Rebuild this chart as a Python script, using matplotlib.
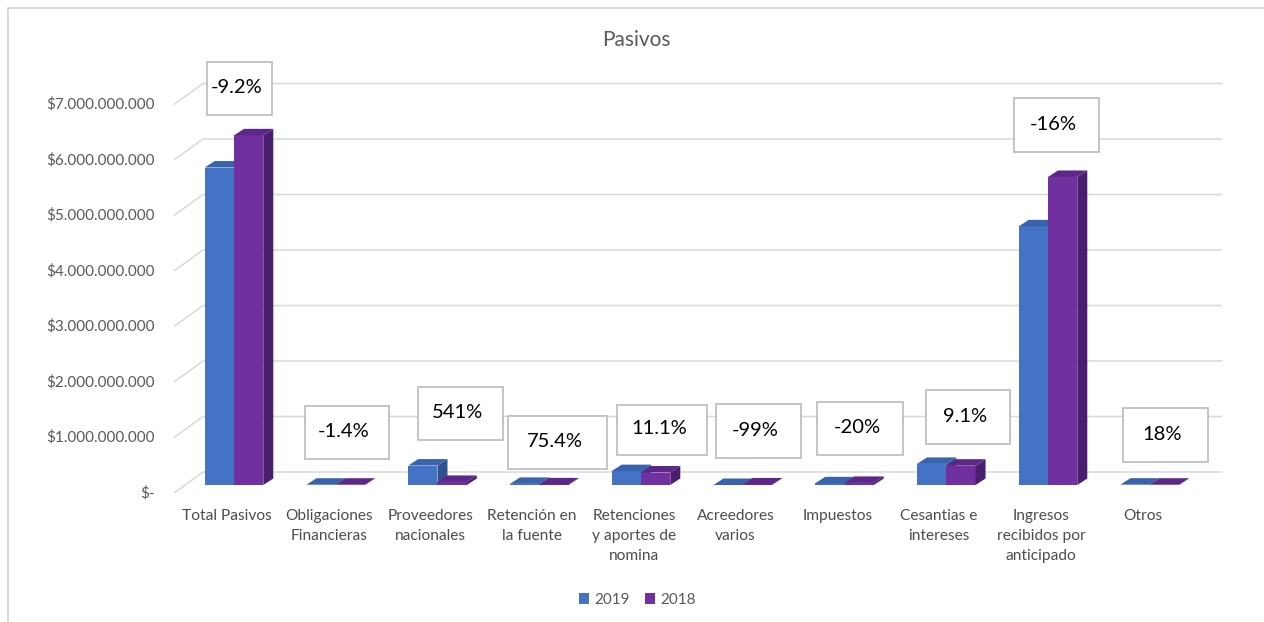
import matplotlib
matplotlib.use("Agg")
import matplotlib.pyplot as plt
from matplotlib.patches import Polygon, Rectangle, Patch
from matplotlib.lines import Line2D

plt.rcParams['font.family'] = ['Lato', 'DejaVu Sans']

# ---------------- data ----------------
categories = ["Total Pasivos", "Obligaciones\nFinancieras", "Proveedores\nnacionales",
              "Retención en\nla fuente", "Retenciones\ny aportes de\nnomina",
              "Acreedores\nvarios", "Impuestos", "Cesantias e\nintereses",
              "Ingresos\nrecibidos por\nanticipado", "Otros"]
# values in billions of pesos
values_2019 = [5.72, 0.005, 0.35, 0.02, 0.25, 0.0001, 0.03, 0.38, 4.66, 0.006]
values_2018 = [6.30, 0.005, 0.055, 0.0114, 0.225, 0.01, 0.0375, 0.348, 5.55, 0.005]
variation_labels = ["-9.2%", "-1.4%", "541%", "75.4%", "11.1%", "-99%", "-20%", "9.1%", "-16%", "18%"]
tick_values = [0, 1, 2, 3, 4, 5, 6, 7]
tick_labels = ["$-", "$1.000.000.000", "$2.000.000.000", "$3.000.000.000",
               "$4.000.000.000", "$5.000.000.000", "$6.000.000.000", "$7.000.000.000"]
series_names = ["2019", "2018"]

# ---------------- styling ----------------
W, H = 1264, 622
fig = plt.figure(figsize=(W / 100, H / 100), dpi=100)
ax = fig.add_axes([0, 0, 1, 1])
PX_X0, PX_DX = 234.0, 101.75   # pixel of category 0 centre, pixels per category
PX_Y0, PX_DY = 485.0, 55.5     # pixel of value 0 (front), pixels per billion
ax.set_xlim((0 - PX_X0) / PX_DX, (W - PX_X0) / PX_DX)
ax.set_ylim((PX_Y0 - H) / PX_DY, PX_Y0 / PX_DY)
ax.axis('off')

def dx(px):
    return px / PX_DX

def dy(px):
    return px / PX_DY

TXT = '#595959'
GRID = '#d9d9d9'
front_c = ['#4472C4', '#7030A0']
side_c = ['#2F528F', '#4A1E6E']
top_c = ['#3A63AD', '#5D2689']

# outer border (top and left edges visible)
fig.lines.append(Line2D([8 / W, 8 / W, 1], [0, 1 - 8 / H, 1 - 8 / H],
                        transform=fig.transFigure, color='#d0d0d0', linewidth=1.2))

# back gridlines with perspective diagonal
x_left = (174 - PX_X0) / PX_DX
x_wall = (203 - PX_X0) / PX_DX
x_right = (1222 - PX_X0) / PX_DX
back_off = dy(13)
label_off = dy(8)
for v, lab in zip(tick_values, tick_labels):
    ax.plot([x_left, x_wall, x_right], [v - label_off, v + back_off, v + back_off],
            color=GRID, linewidth=1.1, zorder=1, solid_capstyle='butt')
    ax.text((155 - PX_X0) / PX_DX, v - label_off, lab, ha='right', va='center',
            fontsize=11, color=TXT)

# 3D-looking bars
bw = dx(29.3)
ddx, ddy = dx(10), dy(6.5)
xs = list(range(len(categories)))
for s, vals in enumerate([values_2019, values_2018]):
    offs = -bw / 2 if s == 0 else bw / 2
    pos = [x + offs for x in xs]
    ax.bar(pos, vals, width=bw, color=front_c[s], edgecolor='none', zorder=3 + 2 * s)
    for p, v in zip(pos, vals):
        l, r = p - bw / 2, p + bw / 2
        side = Polygon([(r, 0), (r + ddx, ddy), (r + ddx, v + ddy), (r, v)],
                       closed=True, facecolor=side_c[s], edgecolor='none', zorder=3 + 2 * s)
        top = Polygon([(l, v), (l + ddx, v + ddy), (r + ddx, v + ddy), (r, v)],
                      closed=True, facecolor=top_c[s], edgecolor='none', zorder=3 + 2 * s)
        ax.add_patch(side)
        ax.add_patch(top)

# category labels
for x, c in zip(xs, categories):
    ax.text(x - 0.07, (PX_Y0 - 509) / PX_DY, c, ha='center', va='top', fontsize=11.2,
            color='#4d4d4d', linespacing=1.55)

# title
fig.text(636 / W, 1 - 40 / H, "Pasivos", ha='center', va='center', fontsize=15, color=TXT)

# variation label boxes (pixel boxes: x0, y0, x1, y1)
boxes = [(207, 62, 272, 115), (305, 406, 389, 459), (418, 387, 503, 440),
         (508, 416, 607, 469), (617, 405, 707, 455), (716, 404, 801, 458),
         (817, 402, 903, 455), (926, 390, 1010, 444), (1014, 98, 1099, 152),
         (1123, 408, 1208, 462)]
for (x0, y0, x1, y1), lab in zip(boxes, variation_labels):
    fig.patches.append(Rectangle((x0 / W, 1 - y1 / H), (x1 - x0) / W, (y1 - y0) / H,
                                 transform=fig.transFigure, facecolor='white',
                                 edgecolor='#bfbfbf', linewidth=1.3, zorder=10))
    fig.text(((x0 + x1) / 2 - 3) / W, 1 - ((y0 + y1) / 2 - 1) / H, lab, ha='center',
             va='center', fontsize=14.5, color='black', zorder=11)

# legend
handles = [Patch(facecolor=front_c[0]), Patch(facecolor=front_c[1])]
leg = fig.legend(handles, series_names, loc='center', bbox_to_anchor=(637 / W, 1 - 600 / H),
                 ncol=2, frameon=False, fontsize=11, handlelength=0.7, handleheight=0.7,
                 handletextpad=0.3, columnspacing=1.0)
for t in leg.get_texts():
    t.set_color(TXT)

fig.savefig("out.png", dpi=100)
